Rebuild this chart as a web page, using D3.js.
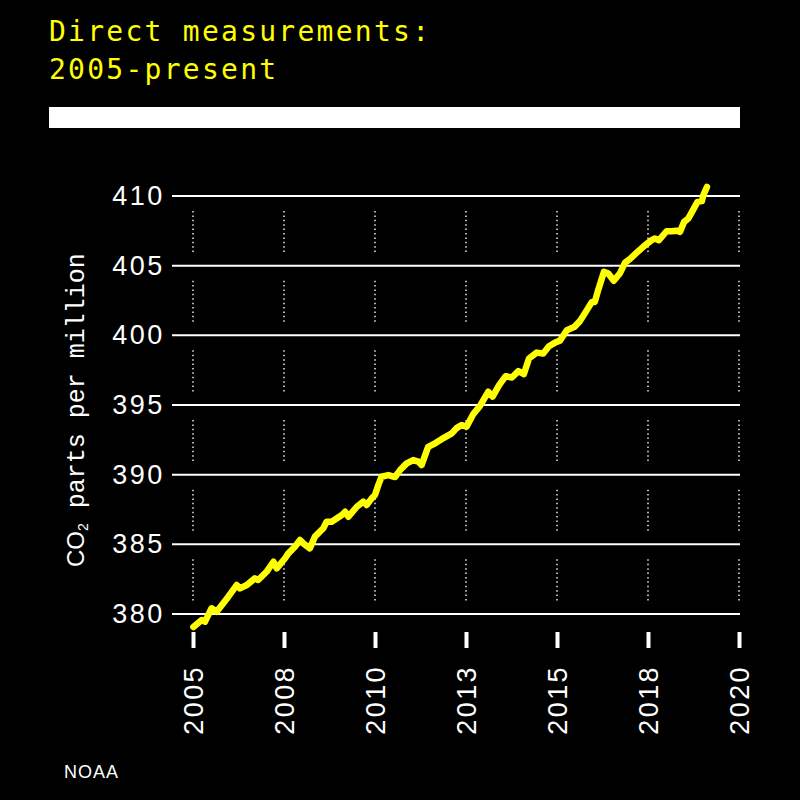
<!DOCTYPE html>
<html>
<head>
<meta charset="utf-8">
<script src="https://cdn.jsdelivr.net/npm/d3@7"></script>
<style>
  html, body { margin: 0; padding: 0; background: #000; }
  svg { display: block; }
</style>
</head>
<body>
<svg id="chart" width="800" height="800"></svg>
<script>
// ---- data ----
const years = [2005.01, 2005.24, 2005.33, 2005.51, 2005.65, 2005.97, 2006.20, 2006.29, 2006.48, 2006.70,
  2006.79, 2007.02, 2007.21, 2007.30, 2007.53, 2007.62, 2007.80, 2007.94, 2008.03, 2008.21,
  2008.35, 2008.58, 2008.67, 2008.81, 2009.09, 2009.18, 2009.27, 2009.50, 2009.68, 2009.77,
  2009.91, 2010.00, 2010.09, 2010.18, 2010.37, 2010.55, 2010.69, 2010.87, 2011.05, 2011.19,
  2011.28, 2011.46, 2011.65, 2011.83, 2012.11, 2012.24, 2012.38, 2012.52, 2012.70, 2012.88,
  2013.11, 2013.23, 2013.41, 2013.59, 2013.76, 2013.94, 2014.09, 2014.23, 2014.44, 2014.62,
  2014.78, 2014.97, 2015.08, 2015.27, 2015.47, 2015.63, 2015.82, 2015.96, 2016.04, 2016.13,
  2016.29, 2016.41, 2016.56, 2016.73, 2016.87, 2017.00, 2017.19, 2017.39, 2017.60, 2017.69,
  2017.80, 2018.01, 2018.15, 2018.29, 2018.38, 2018.49, 2018.61, 2018.72, 2018.86, 2018.98,
  2019.02, 2019.12];
const co2 = [379.07, 379.57, 379.45, 380.41, 380.16, 381.24, 382.08, 381.84, 382.08, 382.56,
  382.44, 383.03, 383.75, 383.28, 384.00, 384.35, 384.83, 385.31, 385.07, 384.71,
  385.55, 386.15, 386.62, 386.62, 387.10, 387.34, 386.98, 387.70, 388.06, 387.82,
  388.30, 388.54, 389.25, 389.85, 389.97, 389.83, 390.33, 390.81, 391.05, 390.93,
  390.69, 392.00, 392.25, 392.55, 392.96, 393.34, 393.56, 393.45, 394.35, 394.92,
  395.95, 395.60, 396.43, 397.07, 396.97, 397.43, 397.22, 398.34, 398.76, 398.70,
  399.22, 399.51, 399.62, 400.37, 400.59, 401.02, 401.81, 402.40, 402.40, 403.24,
  404.56, 404.44, 403.92, 404.46, 405.22, 405.47, 405.93, 406.40, 406.83, 406.95,
  406.83, 407.47, 407.47, 407.51, 407.43, 408.14, 408.39, 408.91, 409.58, 409.63,
  410.06, 410.65];
const yTicks = [380, 385, 390, 395, 400, 405, 410];
const xTicks = [2005, 2007.5, 2010, 2012.5, 2015, 2017.5, 2020];
const titleLines = ["Direct measurements:", "2005-present"];
const yTitleSub = "CO";
const yTitleRest = " parts per million";
const source = "NOAA";

// ---- drawing ----
const svg = d3.select("#chart");
svg.append("rect").attr("width", 800).attr("height", 800).attr("fill", "#000");

const x = d3.scaleLinear().domain([2005, 2020]).range([193, 739]);
const y = d3.scaleLinear().domain([380, 410]).range([614, 196]);

// title
titleLines.forEach((t, i) => {
  svg.append("text")
    .attr("x", 49).attr("y", 41 + i * 38)
    .attr("fill", "#ffff00")
    .attr("font-family", "DejaVu Sans Mono, monospace")
    .attr("font-size", 28)
    .attr("textLength", t.length * 19.1 - 2)
    .attr("lengthAdjust", "spacing")
    .text(t);
});

// white bar
svg.append("rect").attr("x", 49).attr("y", 107).attr("width", 691).attr("height", 21).attr("fill", "#fff");

// horizontal gridlines
svg.append("g").selectAll("line").data(yTicks).join("line")
  .attr("x1", 172).attr("x2", 740)
  .attr("y1", d => y(d)).attr("y2", d => y(d))
  .attr("stroke", "#fff").attr("stroke-width", 2);

// dotted vertical lines, broken around gridlines
const segs = [];
xTicks.forEach(xv => {
  for (let i = 0; i < yTicks.length - 1; i++) {
    segs.push({ xv, lo: yTicks[i], hi: yTicks[i + 1] });
  }
});
svg.append("g").selectAll("line").data(segs).join("line")
  .attr("x1", d => x(d.xv)).attr("x2", d => x(d.xv))
  .attr("y1", d => y(d.hi) + 15).attr("y2", d => y(d.lo) - 13)
  .attr("stroke", "#ddd").attr("stroke-width", 1.6)
  .attr("stroke-dasharray", "1.5,2.9");

// y axis labels
const yAxis = svg.append("g").attr("transform", "translate(172,0)")
  .call(d3.axisLeft(y).tickValues(yTicks).tickSize(0).tickPadding(7).tickFormat(d3.format("d")));
yAxis.select(".domain").remove();
yAxis.selectAll("text")
  .attr("fill", "#fff")
  .attr("font-family", "Liberation Sans, Arial, sans-serif")
  .attr("font-size", 27)
  .attr("letter-spacing", 2.6);

// x axis
const xAxis = svg.append("g").attr("transform", "translate(0,632)")
  .call(d3.axisBottom(x).tickValues(xTicks).tickSize(16).tickFormat(d => String(Math.round(d))));
xAxis.select(".domain").remove();
xAxis.selectAll(".tick line").attr("stroke", "#fff").attr("stroke-width", 4);
xAxis.selectAll("text")
  .attr("fill", "#fff")
  .attr("font-family", "Liberation Sans, Arial, sans-serif")
  .attr("font-size", 27)
  .attr("letter-spacing", 2.4)
  .attr("text-anchor", "end")
  .attr("transform", "rotate(-90)")
  .attr("x", -33).attr("y", 0).attr("dy", "0.36em");

// y axis title
const yt = svg.append("text")
  .attr("transform", "translate(84,567) rotate(-90)")
  .attr("fill", "#fff")
  .attr("text-anchor", "start");
yt.append("tspan")
  .attr("font-family", "Liberation Sans, Arial, sans-serif")
  .attr("font-size", 24)
  .text(yTitleSub);
yt.append("tspan")
  .attr("font-family", "Liberation Sans, Arial, sans-serif")
  .attr("font-size", 14)
  .attr("dy", 4)
  .text("2");
yt.append("tspan")
  .attr("font-family", "Liberation Mono, Courier New, monospace")
  .attr("font-size", 25)
  .attr("dy", -4)
  .text(yTitleRest);

// CO2 line
const data = years.map((yr, i) => ({ yr, v: co2[i] }));
svg.append("path")
  .datum(data)
  .attr("fill", "none")
  .attr("stroke", "#ffff00")
  .attr("stroke-width", 6.5)
  .attr("stroke-linejoin", "round")
  .attr("stroke-linecap", "round")
  .attr("d", d3.line().x(d => x(d.yr)).y(d => y(d.v)));

// source
svg.append("text")
  .attr("x", 64).attr("y", 778)
  .attr("fill", "#fff")
  .attr("font-family", "Liberation Sans, Arial, sans-serif")
  .attr("font-size", 18)
  .attr("letter-spacing", 1)
  .text(source);
</script>
</body>
</html>
